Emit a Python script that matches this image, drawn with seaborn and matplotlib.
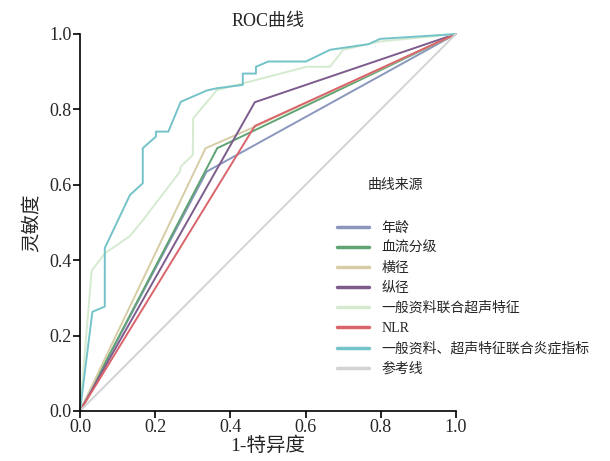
import pandas as pd
import seaborn as sns
import matplotlib.pyplot as plt

sns.set_style("white")
plt.rcParams['font.family'] = ['Liberation Serif', 'Noto Sans CJK SC']
plt.rcParams['axes.unicode_minus'] = False

# 各曲线的 (1-特异度, 灵敏度) 坐标，按图上读数估计
series_names = ["年龄", "血流分级", "横径", "纵径", "一般资料联合超声特征", "NLR",
                "一般资料、超声特征联合炎症指标", "参考线"]

age_fpr = [0.0, 0.337, 1.0]
age_tpr = [0.0, 0.635, 1.0]

flow_fpr = [0.0, 0.365, 1.0]
flow_tpr = [0.0, 0.697, 1.0]

trans_fpr = [0.0, 0.334, 0.465, 1.0]
trans_tpr = [0.0, 0.697, 0.754, 1.0]

long_fpr = [0.0, 0.465, 1.0]
long_tpr = [0.0, 0.819, 1.0]

gen_fpr = [0.0, 0.031, 0.066, 0.133, 0.168, 0.266, 0.268, 0.300, 0.301, 0.364,
           0.603, 0.665, 0.700, 0.798, 1.0]
gen_tpr = [0.0, 0.372, 0.418, 0.464, 0.507, 0.635, 0.648, 0.679, 0.776, 0.851,
           0.913, 0.913, 0.958, 0.980, 1.0]

nlr_fpr = [0.0, 0.465, 1.0]
nlr_tpr = [0.0, 0.756, 1.0]

comb_fpr = [0.0, 0.033, 0.066, 0.066, 0.133, 0.167, 0.167, 0.202, 0.202, 0.235,
            0.268, 0.337, 0.364, 0.433, 0.433, 0.468, 0.468, 0.501, 0.601, 0.665,
            0.767, 0.798, 0.957, 1.0]
comb_tpr = [0.0, 0.263, 0.277, 0.432, 0.573, 0.604, 0.697, 0.728, 0.741, 0.741,
            0.820, 0.850, 0.856, 0.865, 0.895, 0.895, 0.913, 0.927, 0.927, 0.958,
            0.973, 0.987, 0.997, 1.0]

ref_fpr = [0.0, 1.0]
ref_tpr = [0.0, 1.0]

colors = ["#8a97bd", "#5fa373", "#d6cda6", "#7d5c8c", "#d5ebcf", "#d9646b",
          "#74c3c9", "#d3d3d3"]

all_fpr = [age_fpr, flow_fpr, trans_fpr, long_fpr, gen_fpr, nlr_fpr, comb_fpr, ref_fpr]
all_tpr = [age_tpr, flow_tpr, trans_tpr, long_tpr, gen_tpr, nlr_tpr, comb_tpr, ref_tpr]

rows = []
for name, xs, ys in zip(series_names, all_fpr, all_tpr):
    for i, (x, y) in enumerate(zip(xs, ys)):
        rows.append({"曲线来源": name, "fpr": x, "tpr": y, "order": i})
df = pd.DataFrame(rows)

fig = plt.figure(figsize=(6.1, 4.61), dpi=100)
ax = fig.add_axes([0.1311, 0.1085, 0.6164, 0.8178])

sns.lineplot(data=df, x="fpr", y="tpr", hue="曲线来源", hue_order=series_names,
             palette=dict(zip(series_names, colors)), units="曲线来源",
             estimator=None, sort=False, linewidth=1.4, ax=ax, legend=True)

ax.set_xlim(0, 1)
ax.set_ylim(0, 1)
ax.set_xticks([0, 0.2, 0.4, 0.6, 0.8, 1.0])
ax.set_yticks([0, 0.2, 0.4, 0.6, 0.8, 1.0])
ax.set_xticklabels(["0.0", "0.2", "0.4", "0.6", "0.8", "1.0"])
ax.set_yticklabels(["0.0", "0.2", "0.4", "0.6", "0.8", "1.0"])
for line in ax.lines:
    line.set_clip_on(False)

sns.despine(ax=ax)
ax.spines["left"].set_color("black")
ax.spines["bottom"].set_color("black")
ax.spines["left"].set_linewidth(1.2)
ax.spines["bottom"].set_linewidth(1.2)
ax.tick_params(axis="both", direction="out", length=5, width=1.2, labelsize=13,
               color="black", left=True, bottom=True, pad=1)

ax.set_xlabel("1-特异度", fontsize=14, labelpad=0)
ax.set_ylabel("灵敏度", fontsize=14, labelpad=6)
ax.set_title("ROC曲线", fontsize=13, pad=6)

handles, labels = ax.get_legend_handles_labels()
ax.legend(handles, labels, loc="upper left", bbox_to_anchor=(0.553, 0.52),
          bbox_transform=fig.transFigure, frameon=False, fontsize=10,
          handlelength=2.3, handletextpad=0.9, labelspacing=0.5,
          borderaxespad=0, borderpad=0)
for lh in ax.get_legend().get_lines():
    lh.set_linewidth(2.5)
fig.text(0.603, 0.598, "曲线来源", fontsize=10, ha="left", va="center")

fig.savefig("out.png", dpi=100)
